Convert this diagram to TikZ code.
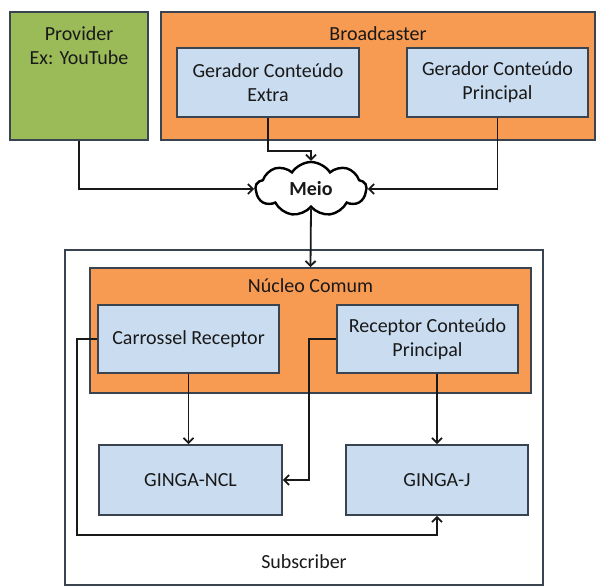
\documentclass[tikz,border=0pt]{standalone}
\usepackage{fontspec}
\setmainfont{Carlito}
\usepackage{tikz}
\usetikzlibrary{shapes.symbols, arrows.meta}

\definecolor{bcorange}{HTML}{F79A52}
\definecolor{provgreen}{HTML}{9BBB59}
\definecolor{boxblue}{HTML}{CADCF0}
\definecolor{edgegray}{HTML}{3A4450}

\begin{document}
\begin{tikzpicture}[x=1pt, y=-1pt,
  every node/.style={font=\fontsize{20}{24}\selectfont, text=black!90},
  bluebox/.style={rectangle, draw=edgegray, fill=boxblue, line width=1.6pt, inner sep=0pt, align=center},
  groupbox/.style={rectangle, draw=edgegray, line width=1.6pt, inner sep=0pt},
  arr/.style={line width=1.8pt, draw=black!90, -{Straight Barb[length=5pt, width=10pt]}}]
\useasboundingbox (0, 0) rectangle (597, 586);
%\draw[red] (0, 0) rectangle (597, 586);
\node[groupbox, fill=provgreen, minimum width=138pt, minimum height=128pt,
  label={[anchor=north, align=center, yshift=-12pt]north:Provider\\Ex: YouTube}] at (79, 76) (prov) {};
\node[groupbox, fill=bcorange, minimum width=434pt, minimum height=128pt,
  label={[anchor=north, yshift=-12pt]north:Broadcaster}] at (378, 76) (bcast) {};
\node[bluebox, minimum width=182pt, minimum height=69pt] at (268, 82.5) (extra) {Gerador Conteúdo\\Extra};
\node[bluebox, minimum width=181pt, minimum height=69pt] at (497.5, 82.5) (princ) {Gerador Conteúdo\\Principal};
\node[cloud, draw=black, fill=white, line width=2.4pt, cloud puffs=9, cloud puff arc=115, aspect=2,
  minimum width=111pt, minimum height=54pt, inner sep=0pt, font=\fontsize{20}{24}\selectfont\bfseries] at (311, 189) (meio) {Meio};
\node[groupbox, fill=white, minimum width=478pt, minimum height=335pt,
  label={[anchor=south, yshift=14pt]south:Subscriber}] at (304, 417.5) (subs) {};
\node[groupbox, fill=bcorange, minimum width=441pt, minimum height=125pt,
  label={[anchor=north, yshift=-8pt]north:Núcleo Comum}] at (310.5, 330.5) (nucleo) {};
\node[bluebox, minimum width=181pt, minimum height=68pt] at (188.5, 339) (carr) {Carrossel Receptor};
\node[bluebox, minimum width=181pt, minimum height=68pt] at (427.5, 339) (recp) {Receptor Conteúdo\\Principal};
\node[bluebox, minimum width=183pt, minimum height=70pt] at (190.5, 480) (ncl) {GINGA-NCL};
\node[bluebox, minimum width=182pt, minimum height=70pt] at (437, 480) (gj) {GINGA-J};
\coordinate (loop) at (77, 535);
\coordinate (bend) at (309, 480);
\draw[arr] (prov.south) |- (meio.west);
\draw[arr] (extra.south) -- ++(0, 33) -| (meio.north);
\draw[arr] (princ.south) |- (meio.east);
\draw[arr] (meio.south) -- (nucleo.north);
\draw[arr] (carr.south) -- (carr.south |- ncl.north);
\draw[arr] (recp.south -| gj.north) -- (gj.north);
\draw[arr] (carr.west) -| (loop) -| (gj.south);
\draw[arr] (recp.west) -| (bend) -- (ncl.east);
\end{tikzpicture}
\end{document}
